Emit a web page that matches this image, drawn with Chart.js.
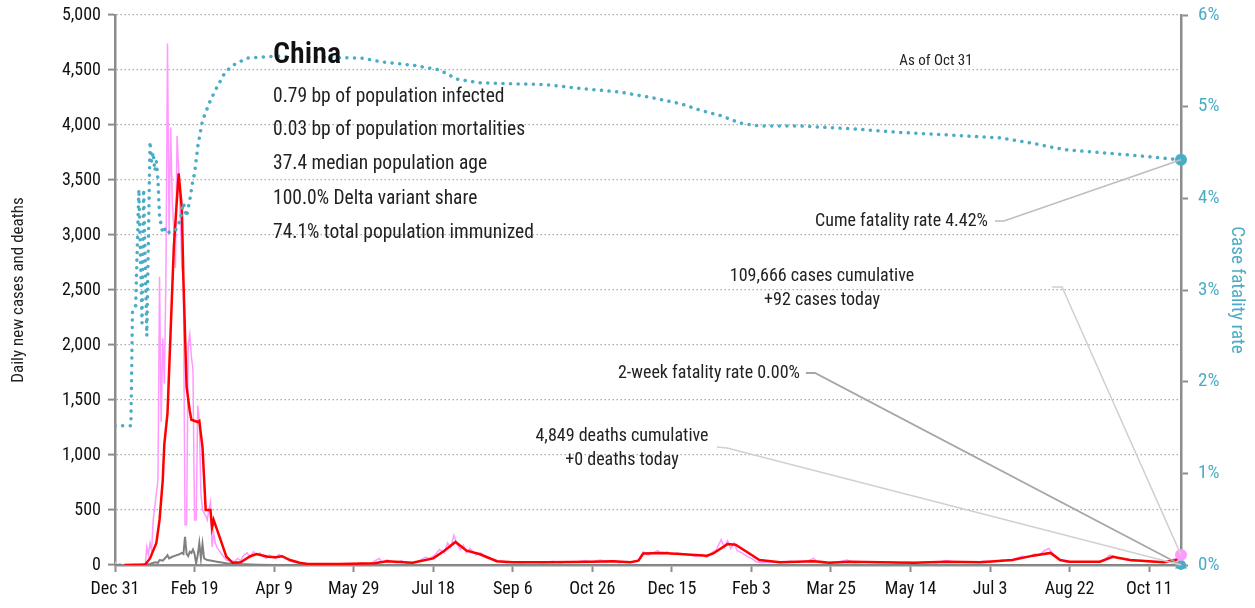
<!DOCTYPE html>
<html>
<head>
<meta charset="utf-8">
<script src="https://cdn.jsdelivr.net/npm/chart.js@4/dist/chart.umd.min.js"></script>
<style>
  html, body { margin: 0; padding: 0; background: #fff; }
  #wrap { width: 1255px; height: 608px; position: relative; }
</style>
</head>
<body>
<div id="wrap"><canvas id="chart"></canvas></div>
<script>
// x axis = days since Dec 31, 2019 (last day = Oct 31, 2021)
const tickDays = [0, 50, 100, 150, 200, 250, 300, 350, 400, 450, 500, 550, 600, 650];
const tickLabels = ['Dec 31', 'Feb 19', 'Apr 9', 'May 29', 'Jul 18', 'Sep 6', 'Oct 26',
  'Dec 15', 'Feb 3', 'Mar 25', 'May 14', 'Jul 3', 'Aug 22', 'Oct 11'];

// daily new cases (pink)
const dailyDays = [0, 1, 3, 5, 19, 20, 21, 22, 23, 24, 26, 27, 28, 29, 30, 31, 32, 33, 34, 35, 36, 37, 38, 39, 40, 41, 42, 43,
  44, 45, 46, 47, 48, 49, 50, 51, 52, 53, 54, 55, 56, 57, 58, 59, 60, 61, 62, 63, 64, 66, 68, 70, 72, 75, 77, 79, 81, 83, 85,
  87, 89, 91, 93, 95, 97, 99, 101, 103, 105, 107, 110, 113, 116, 120, 125, 130, 135, 140, 145, 150, 155, 160, 163, 166, 168,
  171, 174, 177, 180, 183, 186, 189, 192, 195, 198, 201, 204, 207, 209, 211, 213, 215, 217, 219, 221, 223, 225, 227, 230, 233,
  236, 239, 242, 246, 250, 255, 260, 265, 270, 275, 280, 285, 290, 295, 300, 305, 309, 313, 317, 321, 325, 329, 332, 335, 338,
  341, 344, 347, 350, 353, 357, 361, 365, 369, 372, 375, 378, 381, 383, 385, 387, 389, 391, 394, 397, 400, 403, 407, 412, 418,
  424, 430, 436, 439, 442, 446, 450, 455, 460, 465, 470, 475, 480, 486, 492, 498, 504, 510, 516, 522, 528, 534, 540, 546, 552,
  558, 562, 566, 570, 574, 578, 581, 584, 587, 589, 592, 595, 598, 602, 607, 612, 617, 622, 625, 628, 631, 635, 640, 645, 650,
  655, 660, 664, 667, 670];
const dailyCases = [30, 0, 10, 0, 0, 165, 90, 200, 130, 410, 650, 770, 2620, 1300, 2060, 1650, 2600, 4740, 3000, 3980, 3300,
  3050, 2700, 3900, 3600, 3200, 2700, 2600, 365, 365, 2000, 2100, 1900, 1770, 410, 410, 1450, 1300, 650, 500, 470, 450, 410,
  500, 570, 165, 290, 200, 165, 120, 80, 45, 40, 30, 60, 40, 90, 110, 70, 120, 90, 110, 80, 60, 90, 70, 60, 95, 80, 60, 35, 25,
  15, 10, 5, 8, 12, 6, 10, 8, 15, 10, 35, 60, 25, 45, 30, 20, 40, 15, 10, 25, 45, 70, 60, 90, 140, 110, 200, 160, 270, 190, 140,
  180, 110, 150, 120, 90, 110, 70, 60, 45, 30, 20, 30, 20, 30, 25, 20, 35, 20, 30, 25, 40, 30, 45, 30, 40, 20, 30, 25, 45, 120,
  90, 110, 130, 100, 120, 95, 110, 100, 90, 80, 95, 70, 110, 140, 230, 160, 220, 150, 200, 130, 110, 80, 60, 30, 20, 30, 20, 35,
  25, 40, 60, 25, 15, 25, 30, 45, 20, 30, 25, 20, 30, 15, 25, 20, 30, 20, 40, 25, 30, 25, 35, 30, 45, 40, 60, 80, 70, 100, 90,
  130, 150, 110, 70, 40, 25, 30, 25, 30, 25, 40, 90, 80, 60, 50, 35, 40, 30, 25, 30, 45, 60, 92];

// 7-day average of new cases (red)
const avgDays = [6, 19, 22, 26, 28, 30, 31, 33, 35, 37, 40, 42, 43, 45, 47, 48, 52, 53, 55, 57, 60, 61, 62, 66, 70, 74, 79,
  85, 89, 96, 101, 105, 110, 116, 121, 141, 163, 171, 187, 200, 207, 214, 221, 229, 240, 250, 272, 300, 313, 324, 329, 332,
  344, 355, 372, 376, 385, 390, 397, 405, 418, 439, 443, 449, 462, 481, 502, 523, 544, 564, 577, 588, 594, 600, 619, 627, 638,
  659, 666, 670];
const avgCases = [0, 5, 60, 200, 410, 770, 1100, 1380, 2140, 2900, 3560, 3245, 2590, 1620, 1400, 1320, 1300, 1310, 1070, 500,
  500, 340, 410, 245, 75, 20, 25, 80, 100, 75, 70, 80, 45, 20, 10, 10, 15, 35, 20, 60, 130, 210, 130, 100, 35, 25, 25, 30, 35,
  25, 40, 105, 110, 100, 85, 105, 190, 185, 120, 45, 25, 35, 30, 20, 30, 25, 20, 30, 25, 45, 85, 110, 45, 30, 30, 75, 45, 25,
  40, 70];

// daily new deaths (gray)
const deathDays = [0, 15, 18, 22, 25, 27, 28, 30, 32, 33, 34, 36, 38, 40, 42, 43, 44, 45, 46, 47, 48, 49, 50, 51, 52, 53, 54,
  55, 56, 58, 60, 64, 70, 77, 90, 100, 110, 670];
const dailyDeaths = [0, 0, 5, 10, 25, 20, 45, 40, 70, 90, 60, 75, 85, 95, 110, 100, 255, 100, 80, 120, 110, 140, 100, 15, 90,
  200, 60, 190, 60, 45, 40, 30, 15, 8, 3, 1, 0, 0];

// cumulative case fatality rate, % (teal, right axis)
const cfrDays = [0, 10, 11, 13, 15, 17, 18, 20, 22, 23, 24, 25, 26, 27, 28, 30, 32, 34, 38, 41, 43, 45, 47, 49, 50, 52, 55,
  60, 64, 69, 74, 83, 100, 125, 155, 167, 188, 204, 215, 229, 271, 292, 317, 337, 356, 368, 381, 393, 405, 430, 462, 493, 525,
  556, 577, 588, 598, 619, 640, 670];
const cfrRate = [1.52, 1.52, 2.78, 2.83, 4.1, 2.64, 4.1, 2.5, 4.62, 4.4, 4.5, 4.3, 4.4, 4.2, 3.8, 3.62, 3.68, 3.63, 3.65, 3.76,
  3.95, 3.8, 3.98, 4.2, 4.27, 4.56, 4.85, 5.07, 5.21, 5.37, 5.45, 5.53, 5.55, 5.54, 5.53, 5.49, 5.45, 5.4, 5.3, 5.26, 5.24,
  5.2, 5.16, 5.1, 5.03, 4.96, 4.9, 4.82, 4.79, 4.79, 4.76, 4.72, 4.69, 4.66, 4.6, 4.56, 4.53, 4.5, 4.47, 4.42];

const lastDay = 670;
const todayCases = 92;
const todayDeaths = 0;
const twoWeekRate = 0.0;
const cumeRate = 4.42;

const statLines = ['0.79 bp of population infected', '0.03 bp of population mortalities',
  '37.4 median population age', '100.0% Delta variant share', '74.1% total population immunized'];

const FONT = "'Liberation Sans Narrow', 'Roboto Condensed', 'DejaVu Sans Condensed', sans-serif";
const TEAL = '#4bacc6';
const AXIS = '#8c8c8c';

const pts = (xs, ys) => xs.map((d, i) => ({ x: d, y: ys[i] }));

const notes = {
  id: 'notes',
  afterDraw(chart) {
    const { ctx, scales } = chart;
    const x = scales.x, y = scales.y, y2 = scales.y2;
    const px = x.getPixelForValue(lastDay);

    const leader = (pts2, color, w) => {
      ctx.save();
      ctx.strokeStyle = color;
      ctx.lineWidth = w;
      ctx.beginPath();
      ctx.moveTo(pts2[0][0], pts2[0][1]);
      for (let i = 1; i < pts2.length; i++) ctx.lineTo(pts2[i][0], pts2[i][1]);
      ctx.stroke();
      ctx.restore();
    };
    leader([[995, 221], [1004, 221], [px, y2.getPixelForValue(cumeRate)]], '#bdbdbd', 1.5);
    leader([[1052, 287], [1062, 287], [px, y.getPixelForValue(todayCases)]], '#d0d0d0', 1.5);
    leader([[806, 373], [815, 373], [px, y2.getPixelForValue(twoWeekRate)]], '#a6a6a6', 1.8);
    leader([[717, 447], [727, 448], [px, y.getPixelForValue(todayDeaths)]], '#d0d0d0', 1.5);

    ctx.save();
    ctx.fillStyle = '#111';
    ctx.textBaseline = 'middle';
    ctx.textAlign = 'left';
    ctx.font = '600 30px ' + FONT;
    ctx.fillText('China', 273, 55);
    ctx.font = '19.5px ' + FONT;
    ctx.fillStyle = '#222';
    const ys = [97, 130, 164, 199, 233];
    statLines.forEach((s, i) => ctx.fillText(s, 273, ys[i]));

    ctx.font = '15px ' + FONT;
    ctx.textAlign = 'center';
    ctx.fillText('As of Oct 31', 936, 61);

    ctx.font = '18px ' + FONT;
    ctx.textAlign = 'right';
    ctx.fillText('Cume fatality rate ' + cumeRate.toFixed(2) + '%', 988, 221);
    ctx.fillText('2-week fatality rate ' + twoWeekRate.toFixed(2) + '%', 800, 373);
    ctx.textAlign = 'center';
    ctx.fillText('109,666 cases cumulative', 822, 276);
    ctx.fillText('+' + todayCases + ' cases today', 822, 300);
    ctx.fillText('4,849 deaths cumulative', 622, 436);
    ctx.fillText('+' + todayDeaths + ' deaths today', 622, 460);

    // axis titles
    ctx.font = '17px ' + FONT;
    ctx.save();
    ctx.translate(19, 290);
    ctx.rotate(-Math.PI / 2);
    ctx.fillText('Daily new cases and deaths', 0, 0);
    ctx.restore();
    ctx.save();
    ctx.fillStyle = TEAL;
    ctx.font = '19px ' + FONT;
    ctx.translate(1237, 290);
    ctx.rotate(Math.PI / 2);
    ctx.fillText('Case fatality rate', 0, 0);
    ctx.restore();
    ctx.restore();
  }
};

new Chart(document.getElementById('chart'), {
  type: 'line',
  data: {
    datasets: [
      {
        label: 'today cases', data: [{ x: lastDay, y: todayCases }], yAxisID: 'y',
        pointRadius: 6, pointBackgroundColor: '#ff99ff', pointBorderWidth: 0, showLine: false, clip: false, order: 0
      },
      {
        label: 'today deaths', data: [{ x: lastDay, y: todayDeaths }], yAxisID: 'y',
        pointStyle: 'triangle', pointRadius: 7, pointBackgroundColor: TEAL, pointBorderWidth: 0, showLine: false, clip: false, order: 0
      },
      {
        label: '2-week rate', data: [{ x: lastDay, y: twoWeekRate }], yAxisID: 'y2',
        pointRadius: 5, pointBackgroundColor: TEAL, pointBorderWidth: 0, showLine: false, clip: false, order: 0
      },
      {
        label: 'cume rate', data: [{ x: lastDay, y: cumeRate }], yAxisID: 'y2',
        pointRadius: 6, pointBackgroundColor: TEAL, pointBorderWidth: 0, showLine: false, clip: false, order: 0
      },
      {
        label: 'case fatality rate', data: pts(cfrDays, cfrRate), yAxisID: 'y2',
        borderColor: TEAL, borderWidth: 3.5, borderDash: [0.1, 7.5], borderCapStyle: 'round',
        pointRadius: 0, tension: 0, order: 1
      },
      {
        label: '7-day avg', data: pts(avgDays, avgCases), yAxisID: 'y',
        borderColor: '#ff0000', borderWidth: 2.5, pointRadius: 0, tension: 0, order: 2
      },
      {
        label: 'deaths', data: pts(deathDays, dailyDeaths), yAxisID: 'y',
        borderColor: '#808080', borderWidth: 2, pointRadius: 0, tension: 0, order: 3
      },
      {
        label: 'daily cases', data: pts(dailyDays, dailyCases), yAxisID: 'y',
        borderColor: '#ff99ff', borderWidth: 1.5, pointRadius: 0, tension: 0, order: 4
      }
    ]
  },
  options: {
    responsive: true,
    maintainAspectRatio: false,
    animation: false,
    layout: { padding: { top: 15, left: 0, right: 0, bottom: 0 } },
    plugins: { legend: { display: false }, tooltip: { enabled: false } },
    scales: {
      x: {
        type: 'linear', min: 0, max: lastDay,
        afterBuildTicks: s => { s.ticks = tickDays.map(v => ({ value: v })); },
        afterFit: s => { s.height = 43; s.paddingLeft = 0; s.paddingRight = 0; },
        ticks: {
          autoSkip: false, maxRotation: 0, padding: 7, color: '#111',
          font: { family: FONT, size: 18 },
          callback: (v, i) => tickLabels[i]
        },
        grid: { drawOnChartArea: false, drawTicks: true, tickLength: 7, tickColor: AXIS, tickWidth: 2 },
        border: { color: AXIS, width: 2.5 }
      },
      y: {
        position: 'left', min: 0, max: 5000,
        afterFit: s => { s.width = 115; s.paddingTop = 0; s.paddingBottom = 0; },
        ticks: {
          stepSize: 500, padding: 7, color: '#111',
          font: { family: FONT, size: 18 },
          callback: v => v.toLocaleString('en-US')
        },
        grid: { color: '#aaaaaa', lineWidth: 1.2, tickColor: AXIS, tickLength: 7, tickWidth: 2 },
        border: { color: AXIS, width: 2.5, dash: [1.5, 2.5] }
      },
      y2: {
        position: 'right', min: 0, max: 6,
        afterFit: s => { s.width = 74; s.paddingTop = 0; s.paddingBottom = 0; },
        ticks: {
          stepSize: 1, padding: 10, color: TEAL,
          font: { family: FONT, size: 19 },
          callback: v => v + '%'
        },
        grid: { drawOnChartArea: false, tickColor: AXIS, tickLength: 7, tickWidth: 2 },
        border: { color: AXIS, width: 2.5 }
      }
    }
  },
  plugins: [notes]
});
</script>
</body>
</html>
